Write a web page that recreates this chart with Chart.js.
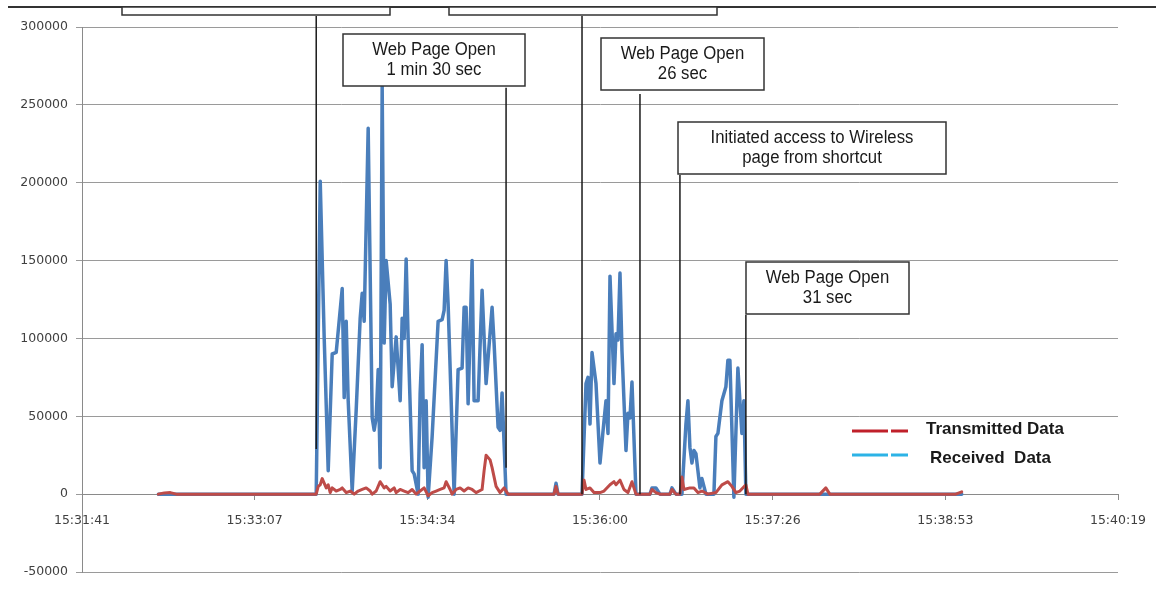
<!DOCTYPE html>
<html lang="en">
<head>
<meta charset="UTF-8" />
<title>Transmitted / Received Data</title>
<script src="https://cdn.jsdelivr.net/npm/chart.js"></script>
<style>
  html, body { margin: 0; padding: 0; background: #fff; }
  .wrap { position: relative; width: 1156px; height: 593px; }
</style>
</head>
<body>
<div class="wrap"><canvas id="trafficChart"></canvas></div>
<script>
// x axis runs in Excel day fractions, ticks every 0.001 day (86.4 s)
const xMinDay = 0.647;
const xMaxDay = 0.653;
const xStepDay = 0.001;
const xTickLabels = ['15:31:41', '15:33:07', '15:34:34', '15:36:00', '15:37:26', '15:38:53', '15:40:19'];
const yTicks = [-50000, 0, 50000, 100000, 150000, 200000, 250000, 300000];

// Transmitted Data (red)
const txTimes = [
  '15:32:19', '15:32:22', '15:32:25', '15:32:28', '15:33:38', '15:33:39', '15:33:40', '15:33:41',
  '15:33:43', '15:33:44', '15:33:45', '15:33:46', '15:33:48', '15:33:50', '15:33:51', '15:33:53',
  '15:33:55', '15:33:57', '15:33:59', '15:34:01', '15:34:03', '15:34:05', '15:34:06', '15:34:08',
  '15:34:10', '15:34:12', '15:34:13', '15:34:15', '15:34:17', '15:34:18', '15:34:20', '15:34:22',
  '15:34:24', '15:34:26', '15:34:28', '15:34:30', '15:34:32', '15:34:34', '15:34:36', '15:34:38',
  '15:34:40', '15:34:42', '15:34:43', '15:34:45', '15:34:46', '15:34:48', '15:34:50', '15:34:52',
  '15:34:54', '15:34:56', '15:34:58', '15:35:01', '15:35:02', '15:35:03', '15:35:05', '15:35:06',
  '15:35:08', '15:35:10', '15:35:12', '15:35:14', '15:35:37', '15:35:38', '15:35:39', '15:35:51',
  '15:35:52', '15:35:53', '15:35:55', '15:35:57', '15:36:00', '15:36:02', '15:36:05', '15:36:07',
  '15:36:08', '15:36:10', '15:36:12', '15:36:14', '15:36:16', '15:36:18', '15:36:25', '15:36:26',
  '15:36:28', '15:36:30', '15:36:35', '15:36:36', '15:36:38', '15:36:40', '15:36:41', '15:36:42',
  '15:36:45', '15:36:47', '15:36:49', '15:36:51', '15:36:54', '15:36:58', '15:37:01', '15:37:04',
  '15:37:06', '15:37:08', '15:37:10', '15:37:13', '15:37:14', '15:37:50', '15:37:53', '15:37:55',
  '15:38:58', '15:39:01'
];
const txBytes = [
  0, 800, 1000, 0, 0, 5000, 6000, 10000,
  4000, 6000, 1000, 4000, 2000, 3000, 4000, 1000,
  2000, 0, 2000, 3000, 4000, 2000, 0, 2000,
  8000, 4000, 5000, 2000, 4000, 1000, 3000, 2000,
  1000, 3000, 0, 2000, 4000, -1000, 1000, 2000,
  3000, 4000, 8000, 3000, 0, 3000, 4000, 2000,
  4000, 3000, 1000, 3000, 15000, 25000, 22000, 17000,
  5000, 1000, 4000, 0, 0, 5000, 0, 0,
  9000, 3000, 4000, 1000, 1000, 2000, 6000, 8000,
  6000, 9000, 3000, 1000, 8000, 0, 0, 3000,
  1000, 0, 0, 3000, 0, 0, 11000, 3000,
  4000, 4000, 1000, 2000, 0, 1000, 6000, 8000,
  5000, 1000, 2000, 6000, 0, 0, 4000, 0,
  0, 1500
];

// Received Data (blue)
const rxTimes = [
  '15:32:19', '15:33:38', '15:33:40', '15:33:42', '15:33:44', '15:33:46', '15:33:48', '15:33:51',
  '15:33:52', '15:33:53', '15:33:54', '15:33:56', '15:33:58', '15:34:00', '15:34:01', '15:34:02',
  '15:34:04', '15:34:06', '15:34:07', '15:34:08', '15:34:09', '15:34:10', '15:34:11', '15:34:12',
  '15:34:13', '15:34:15', '15:34:16', '15:34:18', '15:34:20', '15:34:21', '15:34:22', '15:34:23',
  '15:34:24', '15:34:26', '15:34:27', '15:34:29', '15:34:30', '15:34:31', '15:34:32', '15:34:33',
  '15:34:34', '15:34:36', '15:34:39', '15:34:41', '15:34:42', '15:34:43', '15:34:44', '15:34:47',
  '15:34:49', '15:34:51', '15:34:52', '15:34:53', '15:34:54', '15:34:56', '15:34:57', '15:34:59',
  '15:35:01', '15:35:03', '15:35:06', '15:35:07', '15:35:09', '15:35:10', '15:35:11', '15:35:13',
  '15:35:37', '15:35:38', '15:35:39', '15:35:51', '15:35:53', '15:35:54', '15:35:55', '15:35:56',
  '15:35:58', '15:36:00', '15:36:02', '15:36:03', '15:36:04', '15:36:05', '15:36:07', '15:36:08',
  '15:36:09', '15:36:10', '15:36:11', '15:36:13', '15:36:14', '15:36:15', '15:36:16', '15:36:18',
  '15:36:25', '15:36:26', '15:36:28', '15:36:30', '15:36:35', '15:36:36', '15:36:38', '15:36:41',
  '15:36:43', '15:36:44', '15:36:45', '15:36:46', '15:36:47', '15:36:48', '15:36:50', '15:36:51',
  '15:36:53', '15:36:57', '15:36:58', '15:36:59', '15:37:01', '15:37:03', '15:37:04', '15:37:05',
  '15:37:07', '15:37:09', '15:37:11', '15:37:12', '15:37:13', '15:39:01'
];
const rxBytes = [
  0, 0, 201000, 100000, 15000, 90000, 91000, 132000,
  62000, 111000, 60000, 2000, 54000, 113000, 129000, 111000,
  235000, 49000, 41000, 49000, 80000, 17000, 262000, 97000,
  150000, 122000, 69000, 101000, 60000, 113000, 100000, 151000,
  100000, 15000, 13000, 0, 65000, 96000, 17000, 60000,
  -2000, 37000, 111000, 112000, 118000, 150000, 122000, 0,
  80000, 81000, 120000, 120000, 58000, 150000, 60000, 60000,
  131000, 71000, 120000, 97000, 43000, 41000, 65000, 0,
  0, 7000, 0, 0, 71000, 75000, 45000, 91000,
  71000, 20000, 47000, 60000, 39000, 140000, 71000, 103000,
  99000, 142000, 92000, 28000, 52000, 49000, 72000, 0,
  0, 4000, 4000, 0, 0, 4000, 0, 0,
  45000, 60000, 30000, 20000, 28000, 26000, 4000, 10000,
  0, 0, 37000, 39000, 60000, 69000, 86000, 86000,
  -2000, 81000, 39000, 60000, 0, 0
];

// event markers drawn as vertical lines (time, top value, bottom value)
const markerTimes = ['15:33:38', '15:35:13', '15:35:51', '15:36:20', '15:36:40', '15:37:13'];
const markerTop = [307000, 261000, 307000, 257000, 205000, 115000];
const markerBottom = [29000, 17000, 0, 0, 0, 0];

function toSec(t) {
  const p = t.split(':').map(Number);
  return p[0] * 3600 + p[1] * 60 + p[2];
}
function points(times, vals) {
  return times.map((t, i) => ({ x: toSec(t), y: vals[i] }));
}

// callout boxes, canvas pixels
const callouts = [
  { x: 122, y: 7, w: 268, h: 8, text: [] },
  { x: 449, y: 7, w: 268, h: 8, text: [] },
  { x: 343, y: 34, w: 182, h: 52, text: ['Web Page Open', '1 min 30 sec'] },
  { x: 601, y: 38, w: 163, h: 52, text: ['Web Page Open', '26 sec'] },
  { x: 678, y: 122, w: 268, h: 52, text: ['Initiated access to Wireless', 'page from shortcut'] },
  { x: 746, y: 262, w: 163, h: 52, text: ['Web Page Open', '31 sec'] }
];

const annotations = {
  id: 'annotations',
  afterDatasetsDraw(chart) {
    const { ctx, scales: { x, y } } = chart;
    ctx.save();

    // frame line along the top
    ctx.strokeStyle = '#333';
    ctx.lineWidth = 2;
    ctx.beginPath();
    ctx.moveTo(8, 7);
    ctx.lineTo(1156, 7);
    ctx.stroke();

    // markers
    ctx.strokeStyle = '#1a1a1a';
    ctx.lineWidth = 1.5;
    markerTimes.forEach((t, i) => {
      const px = x.getPixelForValue(toSec(t));
      ctx.beginPath();
      ctx.moveTo(px, y.getPixelForValue(markerTop[i]));
      ctx.lineTo(px, y.getPixelForValue(markerBottom[i]));
      ctx.stroke();
    });

    // boxes
    ctx.font = '18px "Liberation Sans", Arial, sans-serif';
    ctx.textAlign = 'center';
    ctx.textBaseline = 'middle';
    callouts.forEach(b => {
      ctx.fillStyle = '#fff';
      ctx.fillRect(b.x, b.y, b.w, b.h);
      ctx.strokeStyle = '#333';
      ctx.lineWidth = 1.5;
      ctx.strokeRect(b.x, b.y, b.w, b.h);
      ctx.fillStyle = '#1a1a1a';
      b.text.forEach((line, i) => {
        ctx.save();
        ctx.translate(b.x + b.w / 2, b.y + 16 + i * 20);
        ctx.scale(0.93, 1);
        ctx.fillText(line, 0, 0);
        ctx.restore();
      });
    });

    // legend
    const legend = [
      { label: 'Transmitted Data', color: '#c0202a', y: 431, tx: 926, ty: 429 },
      { label: 'Received  Data', color: '#2cb3e6', y: 455, tx: 930, ty: 458 }
    ];
    ctx.lineWidth = 3;
    ctx.textAlign = 'left';
    ctx.font = 'bold 17px "Liberation Sans", Arial, sans-serif';
    legend.forEach(l => {
      ctx.strokeStyle = l.color;
      ctx.beginPath();
      ctx.moveTo(852, l.y); ctx.lineTo(888, l.y);
      ctx.moveTo(891, l.y); ctx.lineTo(908, l.y);
      ctx.stroke();
      ctx.fillStyle = '#1a1a1a';
      ctx.fillText(l.label, l.tx, l.ty);
    });

    ctx.restore();
  }
};

const tickFont = { family: '"DejaVu Sans", Verdana, sans-serif', size: 12.5 };

new Chart(document.getElementById('trafficChart'), {
  type: 'line',
  data: {
    datasets: [
      {
        label: 'Transmitted Data',
        data: points(txTimes, txBytes),
        borderColor: '#be4b48',
        borderWidth: 3
      },
      {
        label: 'Received Data',
        data: points(rxTimes, rxBytes),
        borderColor: '#4a7ebb',
        borderWidth: 3.5
      }
    ]
  },
  options: {
    responsive: true,
    maintainAspectRatio: false,
    animation: false,
    layout: { padding: { left: 0, right: 38, top: 27, bottom: 21 } },
    elements: {
      point: { radius: 0 },
      line: { tension: 0, borderJoinStyle: 'round', borderCapStyle: 'round' }
    },
    plugins: {
      legend: { display: false },
      tooltip: { enabled: false }
    },
    scales: {
      x: {
        type: 'linear',
        position: { y: 0 },
        min: xMinDay * 86400,
        max: xMaxDay * 86400,
        afterBuildTicks: s => {
          s.ticks = xTickLabels.map((_, i) => ({ value: (xMinDay + i * xStepDay) * 86400 }));
        },
        afterFit: s => { s.paddingLeft = 0; s.paddingRight = 0; },
        ticks: {
          autoSkip: false,
          maxRotation: 0,
          padding: 14,
          color: '#404040',
          font: tickFont,
          callback: (v, i) => xTickLabels[i]
        },
        grid: { drawOnChartArea: false, tickLength: 5, color: '#8a8a8a' },
        border: { color: '#8a8a8a' }
      },
      y: {
        min: yTicks[0],
        max: yTicks[yTicks.length - 1],
        afterFit: s => { s.width = 82; },
        afterBuildTicks: s => { s.ticks = yTicks.map(v => ({ value: v })); },
        ticks: {
          padding: 8,
          color: '#404040',
          font: tickFont,
          callback: v => String(v)
        },
        grid: { color: '#9a9a9a', tickLength: 6 },
        border: { color: '#8a8a8a' }
      }
    }
  },
  plugins: [annotations]
});
</script>
</body>
</html>
